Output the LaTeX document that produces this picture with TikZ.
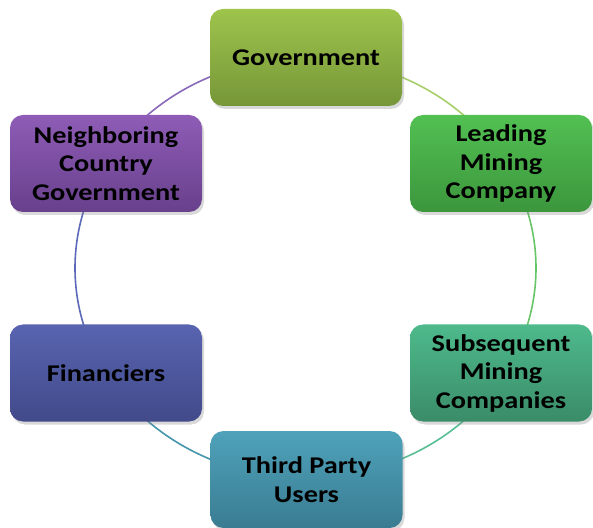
\documentclass[tikz,border=0pt]{standalone}
\usepackage{fontspec}
\setmainfont{Carlito}[FakeStretch=1.18]
\usetikzlibrary{shadows}
\tikzset{
	stake/.style = {rounded corners = 13pt, minimum width = 192pt, minimum height = 97pt,
		inner sep = 0pt, align = center, font = \fontsize{24}{28.5}\selectfont\bfseries,
		text = black, drop shadow = {shadow xshift = 2pt, shadow yshift = -3pt, opacity = .3}},
	link/.style = {line width = 1.6pt}
}
\begin{document}
\begin{tikzpicture}[x = 1pt, y = 1pt]
	\useasboundingbox (0,0) rectangle (593,527);
	\coordinate (ring) at (305.5,259);
	% ring segments
	\draw[link, color = {rgb,255:red,166;green,206;blue,106}] (ring) ++(90:230.5 and 210) arc[start angle = 90, end angle = 30, x radius = 230.5, y radius = 210];
	\draw[link, color = {rgb,255:red,104;green,196;blue,104}] (ring) ++(30:230.5 and 210) arc[start angle = 30, end angle = -30, x radius = 230.5, y radius = 210];
	\draw[link, color = {rgb,255:red,88;green,190;blue,148}] (ring) ++(-30:230.5 and 210) arc[start angle = -30, end angle = -90, x radius = 230.5, y radius = 210];
	\draw[link, color = {rgb,255:red,70;green,150;blue,172}] (ring) ++(-90:230.5 and 210) arc[start angle = -90, end angle = -150, x radius = 230.5, y radius = 210];
	\draw[link, color = {rgb,255:red,92;green,104;blue,184}] (ring) ++(210:230.5 and 210) arc[start angle = 210, end angle = 150, x radius = 230.5, y radius = 210];
	\draw[link, color = {rgb,255:red,138;green,104;blue,186}] (ring) ++(150:230.5 and 210) arc[start angle = 150, end angle = 90, x radius = 230.5, y radius = 210];
	% stakeholders
	\node[stake, top color = {rgb,255:red,158;green,196;blue,76}, bottom color = {rgb,255:red,118;green,150;blue,56}] (gov) at (306,469.5) {Government};
	\node[stake, minimum width = 182pt, top color = {rgb,255:red,82;green,192;blue,82}, bottom color = {rgb,255:red,60;green,150;blue,60}] (lead) at (501,363.5) {Leading\\Mining\\Company};
	\node[stake, minimum width = 182pt, top color = {rgb,255:red,78;green,186;blue,140}, bottom color = {rgb,255:red,58;green,140;blue,104}] (subs) at (501,154) {Subsequent\\Mining\\Companies};
	\node[stake, top color = {rgb,255:red,78;green,162;blue,186}, bottom color = {rgb,255:red,58;green,124;blue,146}] (third) at (306.5,47.5) {Third Party\\Users};
	\node[stake, top color = {rgb,255:red,88;green,100;blue,176}, bottom color = {rgb,255:red,66;green,74;blue,138}] (fin) at (106,154) {Financiers};
	\node[stake, top color = {rgb,255:red,142;green,92;blue,182}, bottom color = {rgb,255:red,104;green,64;blue,140}] (ngc) at (106,363.5) {Neighboring\\Country\\Government};
\end{tikzpicture}
\end{document}
